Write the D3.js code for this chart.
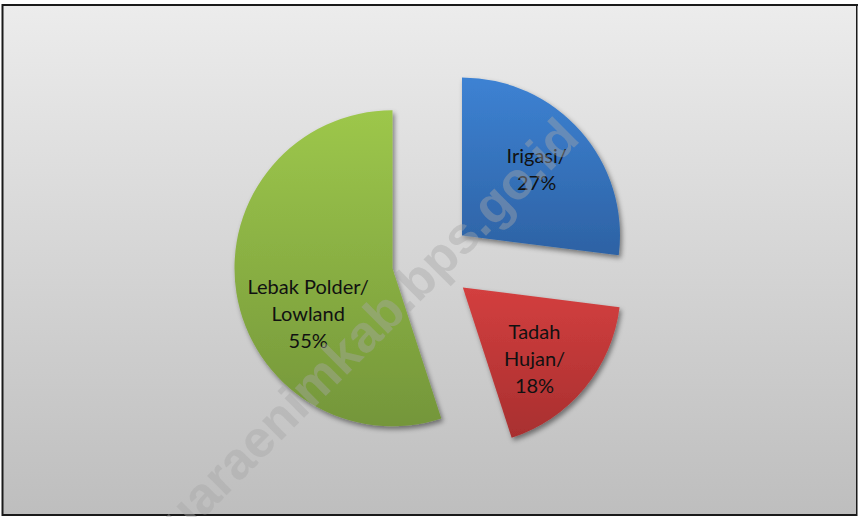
<!DOCTYPE html>
<html>
<head>
<meta charset="utf-8">
<script src="https://cdn.jsdelivr.net/npm/d3@7"></script>
<style>
    body { margin: 0; background: #fff; }
    svg { display: block; }
</style>
</head>
<body>
<div id="chart"></div>
<script>
// data
const categories = ["Irigasi", "Tadah Hujan", "Lebak Polder/Lowland"];
const values = [27, 18, 55];
const labelLines = [["Irigasi/", "27%"], ["Tadah", "Hujan/", "18%"], ["Lebak Polder/", "Lowland", "55%"]];
const colorsTop = ["#3d82d3", "#d33f3f", "#9dc74b"];
const colorsBottom = ["#2d62a4", "#a82f2f", "#74963a"];
const watermark = "muaraenimkab.bps.go.id";

const width = 859, height = 517;
const cx = 432, cy = 262, radius = 158, explode = 40;
const labelRadius = 0.63;
// Excel shifts some labels to fit
const labelNudge = [[0, 0], [-5, 8], [14, 30]];

let svg = d3.select("#chart").append("svg")
    .attr("width", width).attr("height", height);

let defs = svg.append("defs");

let bg = defs.append("linearGradient").attr("id", "bg")
    .attr("x1", 0).attr("y1", 0).attr("x2", 0).attr("y2", 1);
bg.append("stop").attr("offset", "0%").attr("stop-color", "#ececec");
bg.append("stop").attr("offset", "100%").attr("stop-color", "#bebebe");

categories.forEach((c, i) => {
    let g = defs.append("linearGradient").attr("id", "slice" + i)
        .attr("x1", 0).attr("y1", 0).attr("x2", 0).attr("y2", 1);
    g.append("stop").attr("offset", "0%").attr("stop-color", colorsTop[i]);
    g.append("stop").attr("offset", "100%").attr("stop-color", colorsBottom[i]);
});

let shadow = defs.append("filter").attr("id", "shadow")
    .attr("x", "-20%").attr("y", "-20%").attr("width", "140%").attr("height", "140%");
shadow.append("feDropShadow").attr("dx", 2).attr("dy", 3)
    .attr("stdDeviation", 2.5).attr("flood-color", "#000").attr("flood-opacity", 0.45);

// chart area
svg.append("rect")
    .attr("x", 2.5).attr("y", 5)
    .attr("width", 854.5).attr("height", 510)
    .attr("fill", "url(#bg)")
    .attr("stroke", "#1a1a1a").attr("stroke-width", 2);
svg.append("line")
    .attr("x1", 857.5).attr("x2", 857.5).attr("y1", 6).attr("y2", 516)
    .attr("stroke", "#8a8a8a").attr("stroke-width", 1);

let pie = d3.pie().sort(null).value(d => d);
let arcs = pie(values);
let arc = d3.arc().innerRadius(0).outerRadius(radius);
let labelArc = d3.arc().innerRadius(radius * labelRadius).outerRadius(radius * labelRadius);

function offsetOf(d) {
    let mid = (d.startAngle + d.endAngle) / 2;
    return [cx + explode * Math.sin(mid), cy - explode * Math.cos(mid)];
}

let slices = svg.append("g").selectAll("g")
    .data(arcs)
    .enter().append("g")
    .attr("transform", d => "translate(" + offsetOf(d) + ")");

slices.append("path")
    .attr("d", arc)
    .attr("fill", (d, i) => "url(#slice" + i + ")")
    .attr("filter", "url(#shadow)");

// labels
slices.each(function(d, i) {
    let c = labelArc.centroid(d);
    let lines = labelLines[i];
    let lh = 27;
    let t = d3.select(this).append("text")
        .attr("text-anchor", "middle")
        .attr("font-family", "Lato, 'Open Sans', sans-serif")
        .attr("font-size", 20)
        .attr("fill", "#111");
    lines.forEach((l, j) => {
        t.append("tspan")
            .attr("x", c[0] + labelNudge[i][0])
            .attr("y", c[1] + labelNudge[i][1] + (j - (lines.length - 1) / 2) * lh)
            .attr("dy", "0.35em")
            .text(l);
    });
});

// watermark (runs off the bottom edge like the original)
svg.append("text")
    .attr("transform", "translate(352,344) rotate(-45)")
    .attr("text-anchor", "middle")
    .attr("dy", "0.35em")
    .attr("font-family", "'Liberation Sans', Arial, sans-serif")
    .attr("font-weight", "bold")
    .attr("font-size", 52)
    .attr("fill", "#a6a6a6")
    .attr("fill-opacity", 0.42)
    .text(watermark);
</script>
</body>
</html>
